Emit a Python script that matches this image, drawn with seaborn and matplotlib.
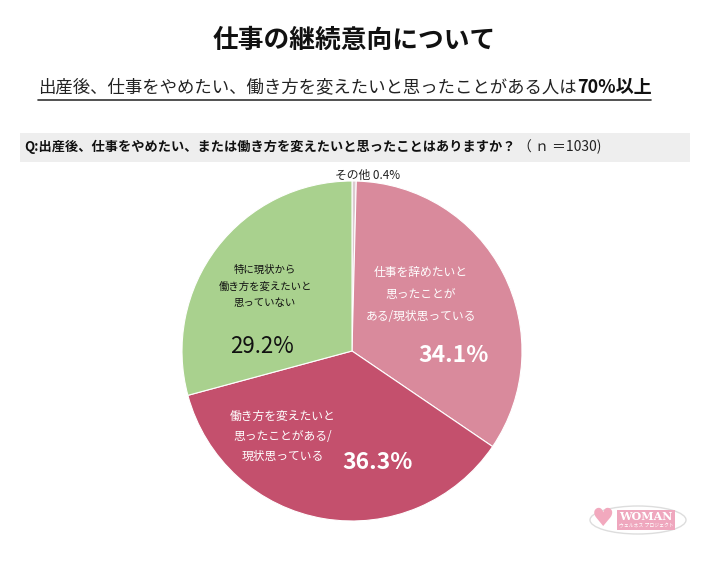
import matplotlib
matplotlib.use("Agg")
import matplotlib.pyplot as plt
import seaborn as sns
from matplotlib.patches import Rectangle, Ellipse
from matplotlib.lines import Line2D

# data
categories = [
    "その他",
    "仕事を辞めたいと\n思ったことが\nある/現状思っている",
    "働き方を変えたいと\n思ったことがある/\n現状思っている",
    "特に現状から\n働き方を変えたいと\n思っていない",
]
shares = [0.4, 34.1, 36.3, 29.2]
colors = ["#DCCBD0", "#D98A9C", "#C4506D", "#A9D18E"]

title = "仕事の継続意向について"
subtitle_main = "出産後、仕事をやめたい、働き方を変えたいと思ったことがある人は"
subtitle_bold = "70%以上"
question = "Q:出産後、仕事をやめたい、または働き方を変えたいと思ったことはありますか？"
sample = "（ ｎ ＝1030)"

sns.set_theme(style="white")
plt.rcParams["font.family"] = ["Noto Sans CJK JP", "DejaVu Sans"]

W, H = 711, 571
fig = plt.figure(figsize=(W / 100, H / 100), dpi=100)
fig.patch.set_facecolor("white")


def fx(px):
    return px / W


def fy(py):
    return 1 - py / H


# header
fig.text(fx(354), fy(40), title, ha="center", va="center",
         fontsize=18.5, fontweight="bold", color="#111111")

renderer = fig.canvas.get_renderer()
t1 = fig.text(fx(38), fy(88), subtitle_main, ha="left", va="center",
              fontsize=12.5, color="#222222")
bb = t1.get_window_extent(renderer)
t2 = fig.text(bb.x1 / W, fy(88), subtitle_bold, ha="left", va="center",
              fontsize=13, fontweight="bold", color="#111111")
bb2 = t2.get_window_extent(renderer)
fig.add_artist(Line2D([fx(38), bb2.x1 / W], [fy(100), fy(100)],
                      color="#333333", lw=1.2))

# question bar
fig.add_artist(Rectangle((fx(20), fy(162)), 670 / W, 29 / H,
                         facecolor="#EEEEEE", edgecolor="none"))
q = fig.text(fx(24), fy(147), question, ha="left", va="center",
             fontsize=9.5, fontweight="bold", color="#111111")
qb = q.get_window_extent(renderer)
fig.text(qb.x1 / W + 0.004, fy(147), sample, ha="left", va="center",
         fontsize=10, color="#222222")

# pie
ax = fig.add_axes([fx(182), fy(521), 340 / W, 340 / H])
ax.pie(shares, colors=colors, startangle=90, counterclock=False,
       wedgeprops=dict(edgecolor="white", linewidth=0.8))
ax.set_xlim(-1, 1)
ax.set_ylim(-1, 1)
ax.set_aspect("equal")
ax.axis("off")

ax.text(0.094, 1.035, f"{categories[0]} {shares[0]}%", ha="center", va="center",
        fontsize=8.5, color="#222222")

ax.text(0.406, 0.335, categories[1], ha="center", va="center",
        fontsize=8.5, color="white", linespacing=1.9)
ax.text(0.60, -0.024, f"{shares[1]}%", ha="center", va="center",
        fontsize=16.5, fontweight="bold", color="white")

ax.text(-0.406, -0.50, categories[2], ha="center", va="center",
        fontsize=8.5, color="white", linespacing=1.7)
ax.text(0.153, -0.653, f"{shares[2]}%", ha="center", va="center",
        fontsize=16.5, fontweight="bold", color="white")

ax.text(-0.512, 0.382, categories[3], ha="center", va="center",
        fontsize=7.5, color="#111111", linespacing=1.8)
ax.text(-0.53, 0.024, f"{shares[3]}%", ha="center", va="center",
        fontsize=16, color="#111111")

# logo
fig.add_artist(Ellipse((fx(638), fy(520)), 96 / W, 28 / H,
                       facecolor="white", edgecolor="#DDDDDD", lw=1))
fig.add_artist(Rectangle((fx(617), fy(530)), 58 / W, 20 / H,
                         facecolor="#EFA7BE", edgecolor="none"))
fig.text(fx(646), fy(516), "WOMAN", ha="center", va="center",
         fontsize=8, fontweight="bold", color="white", family="DejaVu Serif")
fig.text(fx(646), fy(526), "ウェルネス プロジェクト", ha="center", va="center",
         fontsize=3.5, color="white")
fig.text(fx(603), fy(519), "♥", ha="center", va="center",
         fontsize=18, color="#F2A9BE", family="DejaVu Sans")

fig.savefig("out.png", dpi=100)
